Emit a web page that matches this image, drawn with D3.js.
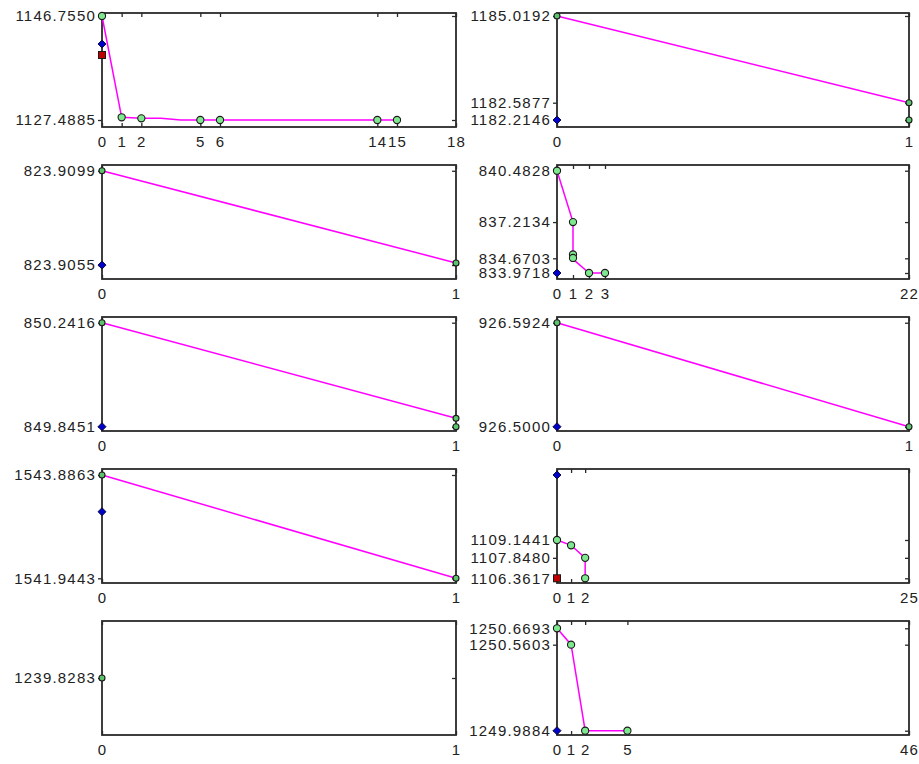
<!DOCTYPE html>
<html>
<head>
<meta charset="utf-8">
<script src="https://cdn.jsdelivr.net/npm/d3@7"></script>
<style>
  html, body { margin: 0; padding: 0; background: #fff; }
  svg { display: block; }
  .tick text { font-family: "Liberation Sans", Arial, sans-serif; font-size: 15px; letter-spacing: 1.2px; fill: #222; }
</style>
</head>
<body>
<svg id="chart" width="919" height="764"></svg>
<script>
// ---- data (one entry per panel, reading order: row by row, left then right) ----
const xMax = [18, 1, 1, 22, 1, 1, 1, 25, 1, 25];
const xTicks = [[0,1,2,5,6,14,15,18],[0,1],[0,1],[0,1,2,3,22],[0,1],[0,1],[0,1],[0,1,2,25],[0,1],[0,1,2,5,25]];
const xTickLabels = [["0","1","2","5","6","14","15","18"],["0","1"],["0","1"],["0","1","2","3","22"],["0","1"],["0","1"],["0","1"],["0","1","2","25"],["0","1"],["0","1","2","5","46"]];
// tick positions as drawn in the picture
const yTicks = [
  [1146.7550, 1127.4885],
  [1185.0192, 1182.681, 1182.2146],
  [823.9099, 823.9055],
  [840.4828, 837.2134, 834.907, 833.9718],
  [850.2416, 849.8451],
  [926.5924, 926.5000],
  [1543.8863, 1541.9443],
  [1109.1441, 1107.8480, 1106.3617],
  [1239.8283],
  [1250.6693, 1250.5603, 1249.9884]
];
// tick label texts as printed
const yTickLabels = [
  ["1146.7550", "1127.4885"],
  ["1185.0192", "1182.5877", "1182.2146"],
  ["823.9099", "823.9055"],
  ["840.4828", "837.2134", "834.6703", "833.9718"],
  ["850.2416", "849.8451"],
  ["926.5924", "926.5000"],
  ["1543.8863", "1541.9443"],
  ["1109.1441", "1107.8480", "1106.3617"],
  ["1239.8283"],
  ["1250.6693", "1250.5603", "1249.9884"]
];
const yDomains = [
  [1126.192, 1147.311],
  [1182.026, 1185.100],
  [823.90485, 823.91017],
  [833.590, 840.846],
  [849.8287, 850.2633],
  [926.4962, 926.5975],
  [1541.856, 1543.999],
  [1106.020, 1114.300],
  [1238.8283, 1240.8283],
  [1249.9598, 1250.7178]
];
const lineX = [[0,1,2,3,4,5,6,14,15],[0,1],[0,1],[0,1,1,2,3],[0,1],[0,1],[0,1],[0,1,2,2],[],[0,1,2,5]];
const lineY = [
  [1146.755, 1127.99, 1127.80, 1127.80, 1127.4885, 1127.4885, 1127.4885, 1127.4885, 1127.4885],
  [1185.0192, 1182.681],
  [823.9099, 823.9056],
  [840.4828, 837.2134, 834.86, 833.9718, 833.9718],
  [850.2416, 849.877],
  [926.5924, 926.5000],
  [1543.8863, 1541.9443],
  [1109.1441, 1108.759, 1107.848, 1106.3617],
  [],
  [1250.6693, 1250.5603, 1249.9884, 1249.9884]
];
const greenX = [[0,1,2,5,6,14,15],[0,1,1],[0,1],[0,1,1,1,2,3],[0,1,1],[0,1],[0,1],[0,1,2,2],[0],[0,1,2,5]];
const greenY = [
  [1146.755, 1127.99, 1127.80, 1127.4885, 1127.4885, 1127.4885, 1127.4885],
  [1185.0192, 1182.681, 1182.2146],
  [823.9099, 823.9056],
  [840.4828, 837.2134, 835.15, 834.93, 833.9718, 833.9718],
  [850.2416, 849.877, 849.8451],
  [926.5924, 926.5000],
  [1543.8863, 1541.9443],
  [1109.1441, 1108.759, 1107.848, 1106.3617],
  [1239.8283],
  [1250.6693, 1250.5603, 1249.9884, 1249.9884]
];
const blueX = [[0],[0],[0],[0],[0],[0],[0],[0],[],[0]];
const blueY = [[1141.57],[1182.2146],[823.9055],[833.9718],[849.8451],[926.5000],[1543.196],[1113.865],[],[1249.9884]];
const redX = [[0],[],[],[],[],[],[],[0],[],[]];
const redY = [[1139.53],[],[],[],[],[],[],[1106.3617],[],[]];

// ---- layout ----
const svg = d3.select("#chart");
const colLeft = [102, 557];
const colRight = [456, 909];
const rowTop0 = 13, rowStep = 152, boxH = 114;

xMax.forEach((xm, i) => {
  const col = i % 2, row = Math.floor(i / 2);
  const x0 = colLeft[col], x1 = colRight[col];
  const y0 = rowTop0 + row * rowStep, y1 = y0 + boxH;
  const x = d3.scaleLinear().domain([0, xm]).range([x0, x1]);
  const y = d3.scaleLinear().domain(yDomains[i]).range([y1, y0]);
  const g = svg.append("g");

  // frame
  g.append("rect").attr("x", x0).attr("y", y0).attr("width", x1 - x0).attr("height", y1 - y0)
    .attr("fill", "none").attr("stroke", "#2a2a2a").attr("stroke-width", 1.8);

  const xl = xTickLabels[i], yl = yTickLabels[i];
  const bottom = d3.axisBottom(x).tickValues(xTicks[i]).tickSize(-4).tickPadding(9)
    .tickFormat((d, k) => xl[k]);
  const top = d3.axisTop(x).tickValues(xTicks[i]).tickSize(-4).tickFormat("");
  const left = d3.axisLeft(y).tickValues(yTicks[i]).tickSize(4).tickPadding(2).tickFormat((d, k) => yl[k]);
  const right = d3.axisRight(y).tickValues(yTicks[i]).tickSize(-4).tickFormat("");

  [[bottom, `translate(0,${y1})`], [top, `translate(0,${y0})`], [left, `translate(${x0},0)`], [right, `translate(${x1},0)`]]
    .forEach(([ax, tr]) => {
      const a = g.append("g").attr("transform", tr).call(ax);
      a.select(".domain").remove();
      a.selectAll(".tick line").attr("stroke", "#2a2a2a").attr("stroke-width", 1.3);
    });

  // line
  const pts = lineX[i].map((v, k) => [v, lineY[i][k]]);
  if (pts.length > 1) {
    g.append("path").datum(pts)
      .attr("fill", "none").attr("stroke", "#ff00ff").attr("stroke-width", 1.5)
      .attr("d", d3.line().x(d => x(d[0])).y(d => y(d[1])));
  }

  const small = xm <= 1;
  // green points
  g.selectAll(".gp").data(greenX[i].map((v, k) => [v, greenY[i][k]])).join("circle")
    .attr("cx", d => x(d[0])).attr("cy", d => y(d[1])).attr("r", small ? 3 : 3.6)
    .attr("fill", small ? "#5cc46c" : "#7fe88f").attr("stroke", "#1a1a1a").attr("stroke-width", 1.1);

  // red squares
  g.selectAll(".rp").data(redX[i].map((v, k) => [v, redY[i][k]])).join("rect")
    .attr("x", d => x(d[0]) - 3.5).attr("y", d => y(d[1]) - 3.5).attr("width", 7).attr("height", 7)
    .attr("fill", "#c00000").attr("stroke", "#1a1a1a").attr("stroke-width", 1);

  // blue diamonds
  g.selectAll(".bp").data(blueX[i].map((v, k) => [v, blueY[i][k]])).join("path")
    .attr("transform", d => `translate(${x(d[0])},${y(d[1])})`)
    .attr("d", "M0,-4L4,0L0,4L-4,0Z")
    .attr("fill", "#0000cc").attr("stroke", "#101030").attr("stroke-width", 1);
});
</script>
</body>
</html>
